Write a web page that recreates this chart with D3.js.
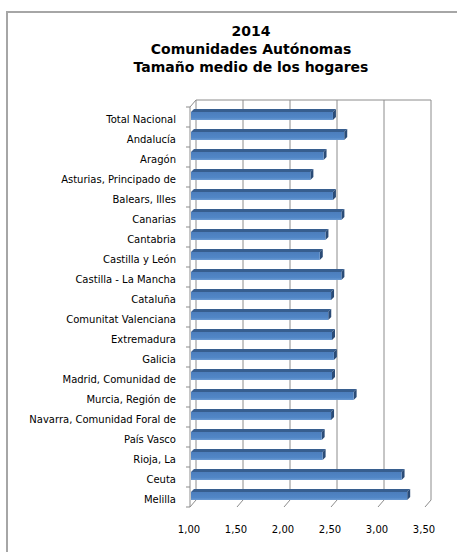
<!DOCTYPE html>
<html>
<head>
<meta charset="utf-8">
<script src="https://cdn.jsdelivr.net/npm/d3@7"></script>
<style>
  body { margin: 0; background: #fff; }
  svg { display: block; }
  .title { font-family: "DejaVu Sans", sans-serif; font-weight: bold; font-size: 14px; fill: #000; }
  .catLabel, .tickLabel { font-family: "DejaVu Sans", sans-serif; font-size: 10px; fill: #000; }
</style>
</head>
<body>
<div id="root"></div>
<script>
// ---------------------------- DATA ----------------------------
const titleLines = ["2014", "Comunidades Autónomas", "Tamaño medio de los hogares"];

const regions = [
    "Total Nacional", "Andalucía", "Aragón", "Asturias, Principado de", "Balears, Illes",
    "Canarias", "Cantabria", "Castilla y León", "Castilla - La Mancha", "Cataluña",
    "Comunitat Valenciana", "Extremadura", "Galicia", "Madrid, Comunidad de", "Murcia, Región de",
    "Navarra, Comunidad Foral de", "País Vasco", "Rioja, La", "Ceuta", "Melilla"
];

const householdSize = [
    2.51, 2.63, 2.41, 2.27, 2.51,
    2.60, 2.43, 2.37, 2.60, 2.49,
    2.46, 2.50, 2.52, 2.50, 2.73,
    2.49, 2.39, 2.40, 3.24, 3.30
];

const xTicks = [1.00, 1.50, 2.00, 2.50, 3.00, 3.50];

// ---------------------------- SETUP ----------------------------
const width = 457;
const height = 552;

// Offset of the back wall relative to the front plane (3D look)
const depthX = 6;
const depthY = -7;
// Depth of each bar
const barDX = 3;
const barDY = -3;

const svg = d3.select("#root")
    .append("svg")
    .attr("width", width)
    .attr("height", height);

// Chart area frame (only top and left edges are inside the window)
svg.append("path")
    .attr("d", "M7,552 L7,12 L457,12")
    .attr("fill", "none")
    .attr("stroke", "#a6a6a6")
    .attr("stroke-width", 2);

// Title
svg.append("g")
    .selectAll("text")
    .data(titleLines)
    .enter()
    .append("text")
    .attr("class", "title")
    .attr("x", 251)
    .attr("y", (d, i) => 36 + i * 18)
    .attr("text-anchor", "middle")
    .text(d => d);

// Scales (front plane)
const x = d3.scaleLinear()
    .domain([1, 3.5])
    .range([190, 425]);

const y = d3.scaleBand()
    .domain(regions)
    .range([107, 507])
    .paddingInner(0.6)
    .paddingOuter(0.3);

const gridColour = "#8c8c8c";

// ---------------------------- BACK WALL AND FLOOR ----------------------------
const wall = svg.append("g")
    .attr("stroke", gridColour)
    .attr("stroke-width", 1)
    .attr("fill", "none");

// Vertical gridlines on back wall
wall.selectAll("line.grid")
    .data(xTicks)
    .enter()
    .append("line")
    .attr("class", "grid")
    .attr("x1", d => x(d) + depthX)
    .attr("x2", d => x(d) + depthX)
    .attr("y1", y.range()[0] + depthY)
    .attr("y2", y.range()[1] + depthY);

// Top edge of back wall
wall.append("line")
    .attr("x1", x(1) + depthX)
    .attr("x2", x(3.5) + depthX)
    .attr("y1", y.range()[0] + depthY)
    .attr("y2", y.range()[0] + depthY);

// Floor lines (slanted, from front ticks to back wall)
wall.selectAll("line.floor")
    .data(xTicks)
    .enter()
    .append("line")
    .attr("class", "floor")
    .attr("x1", d => x(d))
    .attr("x2", d => x(d) + depthX)
    .attr("y1", y.range()[1])
    .attr("y2", y.range()[1] + depthY);

// Left side: front axis line with top slant
wall.append("path")
    .attr("d", "M" + (x(1) + depthX) + "," + (y.range()[0] + depthY) +
        " L" + x(1) + "," + y.range()[0] +
        " L" + x(1) + "," + y.range()[1]);

// Category tick marks (at band boundaries)
const boundaries = regions.map((d, i) => y.range()[0] + i * y.step()).concat([y.range()[1]]);
wall.selectAll("line.catTick")
    .data(boundaries)
    .enter()
    .append("line")
    .attr("class", "catTick")
    .attr("x1", x(1) - 4)
    .attr("x2", x(1))
    .attr("y1", d => d)
    .attr("y2", d => d);

// ---------------------------- BARS ----------------------------
const defs = svg.append("defs");
const grad = defs.append("linearGradient")
    .attr("id", "barFront")
    .attr("x1", 0).attr("y1", 0)
    .attr("x2", 0).attr("y2", 1);
grad.append("stop").attr("offset", "0%").attr("stop-color", "#4c7ebd");
grad.append("stop").attr("offset", "70%").attr("stop-color", "#5186c6");
grad.append("stop").attr("offset", "100%").attr("stop-color", "#6b9ad3");

const data = regions.map((r, i) => ({ name: r, value: householdSize[i] }));

const bars = svg.append("g")
    .selectAll("g")
    .data(data)
    .enter()
    .append("g");

// Shift bars slightly toward the middle of the depth
const barShiftX = 1;
const barShiftY = -1;

// Top face
bars.append("path")
    .attr("d", d => {
        const x0 = x(1) + barShiftX, x1 = x(d.value) + barShiftX, y0 = y(d.name) + barShiftY;
        return "M" + x0 + "," + y0 + " L" + x1 + "," + y0 +
            " L" + (x1 + barDX) + "," + (y0 + barDY) + " L" + (x0 + barDX) + "," + (y0 + barDY) + "Z";
    })
    .attr("fill", "#375e8f");

// Right face
bars.append("path")
    .attr("d", d => {
        const x1 = x(d.value) + barShiftX, y0 = y(d.name) + barShiftY, h = y.bandwidth();
        return "M" + x1 + "," + y0 + " L" + (x1 + barDX) + "," + (y0 + barDY) +
            " L" + (x1 + barDX) + "," + (y0 + barDY + h) + " L" + x1 + "," + (y0 + h) + "Z";
    })
    .attr("fill", "#2b4c77");

// Front face
bars.append("rect")
    .attr("x", x(1) + barShiftX)
    .attr("y", d => y(d.name) + barShiftY)
    .attr("width", d => x(d.value) - x(1))
    .attr("height", y.bandwidth())
    .attr("fill", "url(#barFront)");

// ---------------------------- LABELS ----------------------------
svg.append("g")
    .selectAll("text")
    .data(regions)
    .enter()
    .append("text")
    .attr("class", "catLabel")
    .attr("x", 176)
    .attr("y", d => y(d) + y.bandwidth() / 2 + 2)
    .attr("dy", "0.35em")
    .attr("text-anchor", "end")
    .text(d => d);

const fmt = d3.format(".2f");
svg.append("g")
    .selectAll("text")
    .data(xTicks)
    .enter()
    .append("text")
    .attr("class", "tickLabel")
    .attr("x", d => x(d) - 1)
    .attr("y", 533)
    .attr("text-anchor", "middle")
    .text(d => fmt(d).replace(".", ","));
</script>
</body>
</html>
